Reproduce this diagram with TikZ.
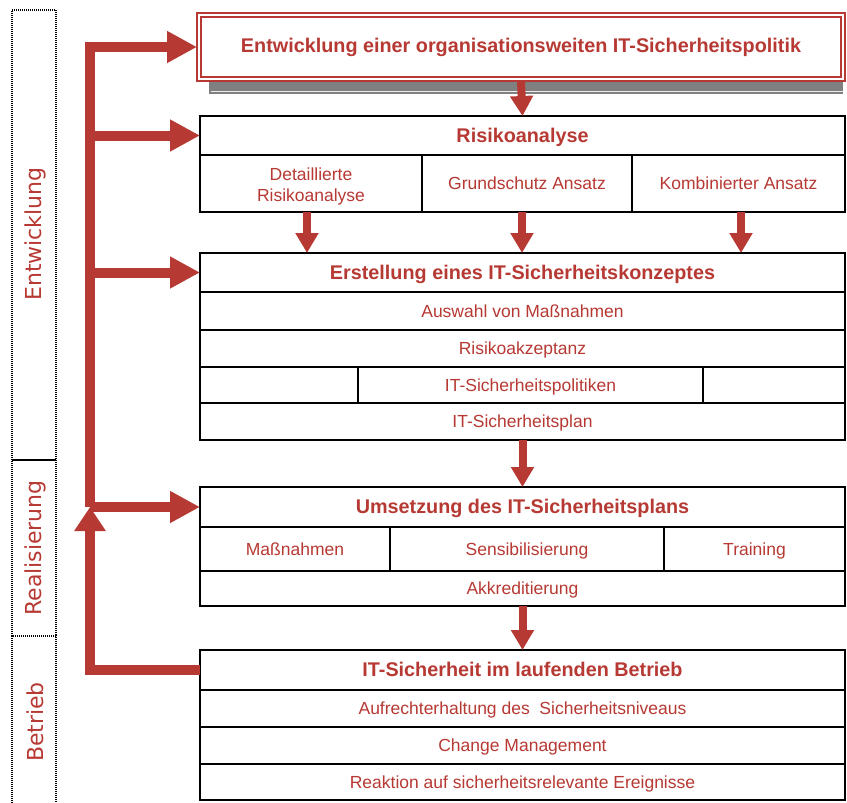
\documentclass[tikz,border=0pt]{standalone}
\usepackage{fontspec}
\setmainfont{Liberation Sans}
\newfontfamily\sidefont{DejaVu Sans}
\usetikzlibrary{arrows.meta}
\definecolor{itred}{RGB}{183,57,51}
\definecolor{shadowgray}{RGB}{128,128,128}
\tikzset{
  cellbase/.style={draw=black, line width=1.3pt, fill=white, inner sep=0pt, outer sep=0pt,
    text=itred, align=center, font=\fontsize{17.5}{21}\selectfont},
  cell/.style={cellbase, text height=14.6pt, text depth=1.7pt},
  headcell/.style={cell, font=\fontsize{19.8}{22}\selectfont\bfseries, text height=16pt, text depth=2.4pt},
  phase/.style={draw=black, line width=1.2pt, dash pattern=on 1pt off 1pt},
  phaselabel/.style={rotate=90, text=itred, font=\sidefont\fontsize{22}{24}\selectfont},
  bus/.style={draw=itred, line width=10pt},
  bushead/.style={-{Triangle[length=30pt,width=30pt]}},
  flow/.style={draw=itred, line width=8pt, -{Triangle[length=20pt,width=22pt]}}
}
\begin{document}
\begin{tikzpicture}[x=1pt,y=-1pt]
\useasboundingbox (0,0) rectangle (847,803);
% phase boxes
\draw[phase] (12,460) -- (12,10) -- (56,10) -- (56,460) -- cycle;
\draw[phase] (12,636) -- (12,460) -- (56,460) -- (56,636);
\draw[phase] (12,803) -- (12,636) -- (56,636) -- (56,803);
\node[phaselabel] (lbE) at (35,234) {Entwicklung};
\node[phaselabel] (lbR) at (35,548) {Realisierung};
\node[phaselabel] (lbB) at (35,722) {Betrieb};

% top box with shadow bar
\fill[shadowgray] (209,81) rectangle (843,94);
\draw[white!85!gray, line width=0.8pt] (211,91) -- (843,91);
\node[draw=itred, line width=2pt, fill=white, inner sep=0pt, outer sep=0pt,
  minimum width=648pt, minimum height=68pt] (top) at (521,47) {};
\node[draw=itred, line width=1.4pt, inner sep=0pt, minimum width=640pt, minimum height=60pt,
  text=itred, font=\fontsize{19.8}{22}\selectfont\bfseries, text height=15pt, text depth=3.4pt] (toptext) at (521,47)
  {Entwicklung einer organisationsweiten IT-Sicherheitspolitik};

% Risikoanalyse
\node[headcell, minimum width=645pt, minimum height=39pt] (risk) at (522.5,135.5) {Risikoanalyse};
\node[cellbase, minimum width=222pt, minimum height=57pt, text height=36.5pt, text depth=0.7pt] (r1) at (311,183.5) {Detaillierte\\Risikoanalyse};
\node[cell, minimum width=210pt, minimum height=57pt] (r2) at (527,183.5) {Grundschutz Ansatz};
\node[cell, minimum width=213pt, minimum height=57pt] (r3) at (738.5,183.5) {Kombinierter Ansatz};

% Erstellung
\node[headcell, minimum width=645pt, minimum height=39pt] (erst) at (522.5,272.5) {Erstellung eines IT-Sicherheitskonzeptes};
\node[cell, minimum width=645pt, minimum height=38pt] (e1) at (522.5,311) {Auswahl von Maßnahmen};
\node[cell, minimum width=645pt, minimum height=37pt] (e2) at (522.5,348.5) {Risikoakzeptanz};
\node[cell, minimum width=158pt, minimum height=36pt] (e3a) at (279,385) {};
\node[cell, minimum width=345pt, minimum height=36pt] (e3b) at (530.5,385) {IT-Sicherheitspolitiken};
\node[cell, minimum width=142pt, minimum height=36pt] (e3c) at (774,385) {};
\node[cell, minimum width=645pt, minimum height=37pt] (e4) at (522.5,421.5) {IT-Sicherheitsplan};

% Umsetzung
\node[headcell, minimum width=645pt, minimum height=40pt] (ums) at (522.5,507) {Umsetzung des IT-Sicherheitsplans};
\node[cell, minimum width=190pt, minimum height=44pt] (u1) at (295,549) {Maßnahmen};
\node[cell, minimum width=274pt, minimum height=44pt] (u2) at (527,549) {Sensibilisierung};
\node[cell, minimum width=181pt, minimum height=44pt] (u3) at (754.5,549) {Training};
\node[cell, minimum width=645pt, minimum height=35pt] (u4) at (522.5,588.5) {Akkreditierung};

% Betrieb
\node[headcell, minimum width=645pt, minimum height=40pt] (bet) at (522.5,670) {IT-Sicherheit im laufenden Betrieb};
\node[cell, minimum width=645pt, minimum height=37pt] (b1) at (522.5,708.5) {Aufrechterhaltung des\ \ Sicherheitsniveaus};
\node[cell, minimum width=645pt, minimum height=37pt] (b2) at (522.5,745.5) {Change Management};
\node[cell, minimum width=645pt, minimum height=36pt] (b3) at (522.5,782) {Reaktion auf sicherheitsrelevante Ereignisse};

% vertical flow arrows
\draw[flow] (top.south) -- (risk.north);
\draw[flow] ([xshift=-4pt]r1.south) -- ([xshift=-4pt]r1.south |- erst.north);
\draw[flow] ([xshift=-5pt]r2.south) -- ([xshift=-5pt]r2.south |- erst.north);
\draw[flow] ([xshift=2.5pt]r3.south) -- ([xshift=2.5pt]r3.south |- erst.north);
\draw[flow] (e4.south) -- (ums.north);
\draw[flow] (u4.south) -- (bet.north);

% left bus
\coordinate (busA) at (90,47);
\coordinate (busB) at (90,507);
\coordinate (busC) at (90,670);
\draw[bus, bushead] (busB) -- (busA) -- (top.west);
\draw[bus, bushead] (busA |- risk.west) -- (risk.west);
\draw[bus, bushead] (busA |- erst.west) -- (erst.west);
\draw[bus, bushead] (busA |- ums.west) -- (ums.west);
\draw[bus, -{Triangle[length=24pt,width=30pt]}] (bet.west) -- (busC) -- (busB);
\end{tikzpicture}
\end{document}
